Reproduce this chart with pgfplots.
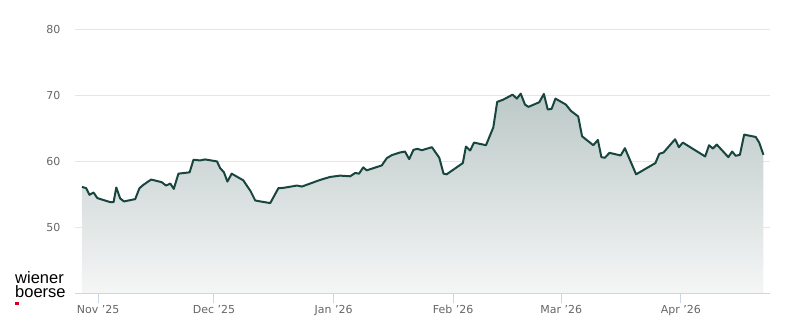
\documentclass[border=0pt]{standalone}
\usepackage{fontspec}
\setmainfont{DejaVu Sans}
\newfontfamily\logofont{Liberation Sans}
\usepackage{pgfplots}
\usepackage{pgfplotstable}
\pgfplotsset{compat=1.18}
\definecolor{linec}{HTML}{17463F}
\definecolor{filltop}{HTML}{BCC9C7}
\definecolor{fillbot}{HTML}{F5F6F6}
\definecolor{gridc}{HTML}{E6E6E6}
\definecolor{axisc}{HTML}{CCD6EB}
\definecolor{labelc}{HTML}{666666}
\definecolor{logored}{HTML}{D4001A}
\pgfplotstableread{
x y
-4.2 56.2
-3.1 56.0
-2.25 55.0
-1.2 55.35
-0.2 54.5
3.1 53.9
4.0 53.9
4.7 56.1
5.7 54.45
6.7 54.0
9.6 54.35
10.7 56.0
11.7 56.5
13.7 57.3
14.5 57.2
16.5 56.9
17.6 56.4
18.7 56.7
19.6 55.9
20.8 58.2
23.7 58.4
24.7 60.3
26.4 60.2
27.7 60.35
30.8 60.05
31.6 59.05
32.6 58.4
33.5 57.0
34.6 58.2
37.6 57.2
39.5 55.55
40.7 54.15
42.0 54.0
44.6 53.75
46.7 56.0
48.0 56.05
51.5 56.4
52.8 56.25
57.5 57.25
60.1 57.7
62.7 57.9
65.3 57.8
66.6 58.3
67.6 58.2
68.7 59.15
69.6 58.7
73.5 59.45
74.8 60.55
76.1 61.0
78.2 61.4
79.5 61.55
80.6 60.4
81.7 61.8
82.7 61.95
83.9 61.75
86.5 62.2
88.4 60.6
89.5 58.2
90.3 58.1
94.5 59.8
95.3 62.3
96.4 61.7
97.4 62.9
100.5 62.5
102.4 65.2
103.4 69.05
105.0 69.4
107.4 70.15
108.5 69.55
109.5 70.3
110.6 68.65
111.5 68.3
114.3 69.0
115.5 70.25
116.5 67.9
117.5 68.0
118.5 69.55
121.2 68.65
122.5 67.7
124.4 66.85
125.4 63.85
128.3 62.5
129.5 63.3
130.4 60.7
131.3 60.6
132.5 61.35
135.4 60.95
136.5 62.05
139.4 58.1
144.4 59.8
145.4 61.2
146.5 61.4
149.5 63.4
150.5 62.2
151.5 62.9
157.3 60.8
158.3 62.5
159.3 62.0
160.3 62.6
163.3 60.7
164.3 61.55
165.2 60.9
166.3 61.05
167.4 64.1
170.4 63.75
171.3 62.9
172.4 61.05
}\pricedata
\begin{document}
\begin{tikzpicture}[x=1pt,y=1pt]
\path[use as bounding box] (0,0) rectangle (800,324);
\begin{axis}[
  at={(75pt,30pt)}, anchor=south west,
  scale only axis, width=695pt, height=264.5pt,
  xmin=-6, xmax=174.1, ymin=40, ymax=80,
  axis line style={draw=none},
  xtick={0,30,61,92,120,151},
  xticklabels={Nov '25,Dec '25,Jan '26,Feb '26,Mar '26,Apr '26},
  ytick={50,60,70,80},
  xtick pos=bottom, ytick pos=left,
  tick align=outside,
  xtick style={draw=axisc, line width=1pt},
  major tick length=9pt,
  ytick style={draw=none},
  ymajorgrids, grid style={draw=gridc, line width=1pt},
  /pgf/number format/assume math mode=true,
  tick label style={font=\fontsize{11}{13}\selectfont, text=labelc},
  xticklabel style={yshift=1pt},
  yticklabel style={xshift=-2pt},
  clip=false,
]
\addplot[draw=none, top color=filltop, bottom color=fillbot] table[x=x,y=y] {\pricedata} -- (axis cs:172.4,40) -- (axis cs:-4.2,40) -- cycle;
\addplot[linec, line width=2pt, line join=round, mark=none] table[x=x,y=y] {\pricedata};
\draw[axisc, line width=1pt] (rel axis cs:0,0) -- (rel axis cs:1,0);
\end{axis}
\node[anchor=base west, inner sep=0pt, font=\logofont\fontsize{16.5}{16.5}\selectfont] at (15,40.5) {wiener};
\node[anchor=base west, inner sep=0pt, font=\logofont\fontsize{16.5}{16.5}\selectfont] at (15,27) {boerse};
\fill[logored] (15.3,18.7) rectangle (19.3,21.7);
\end{tikzpicture}
\end{document}
